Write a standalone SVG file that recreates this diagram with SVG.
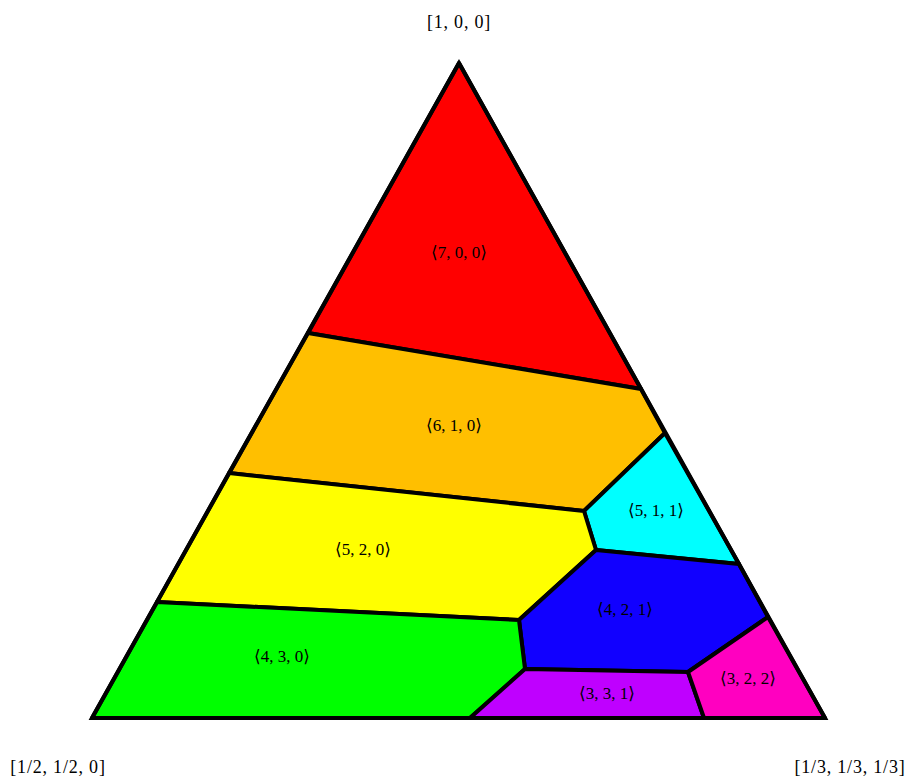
<svg xmlns="http://www.w3.org/2000/svg" width="909" height="782" viewBox="0 0 909 782">
<style>
.r{stroke:#000;stroke-width:4;stroke-linejoin:round}
.t{font-family:"Liberation Serif","DejaVu Serif",serif;font-size:17px;text-anchor:middle;fill:#000}
.c{font-size:18px;letter-spacing:0.8px}
</style>
<rect width="909" height="782" fill="#fff"/>
<g id="r700"><polygon class="r" fill="#FF0000" points="459,63 308,333 641,389"/><text class="t" x="459" y="258">⟨7, 0, 0⟩</text></g>
<g id="r610"><polygon class="r" fill="#FFBF00" points="308,333 641,389 665,433 584,511 229,473"/><text class="t" x="454" y="431">⟨6, 1, 0⟩</text></g>
<g id="r511"><polygon class="r" fill="#00FFFF" points="665,433 739,564 596,550 584,511"/><text class="t" x="656" y="516">⟨5, 1, 1⟩</text></g>
<g id="r520"><polygon class="r" fill="#FFFF00" points="229,473 584,511 596,550 519,620 157,602"/><text class="t" x="363" y="555">⟨5, 2, 0⟩</text></g>
<g id="r421"><polygon class="r" fill="#1100FF" points="596,550 739,564 768,617 688,672 525,669 519,620"/><text class="t" x="625" y="615">⟨4, 2, 1⟩</text></g>
<g id="r430"><polygon class="r" fill="#00FF00" points="157,602 519,620 525,669 470,718 92,718"/><text class="t" x="282" y="662">⟨4, 3, 0⟩</text></g>
<g id="r331"><polygon class="r" fill="#BF00FF" points="525,669 688,672 704,718 470,718"/><text class="t" x="607" y="699">⟨3, 3, 1⟩</text></g>
<g id="r322"><polygon class="r" fill="#FF00C0" points="688,672 768,617 825,718 704,718"/><text class="t" x="748" y="684">⟨3, 2, 2⟩</text></g>
<g id="outline"><polygon points="459,63 92,718 825,718" fill="none" stroke="#000" stroke-width="4" stroke-linejoin="miter"/></g>
<g id="labels">
<text class="t c" x="459" y="28">[1, 0, 0]</text>
<text class="t c" x="58" y="773">[1/2, 1/2, 0]</text>
<text class="t c" x="850" y="773">[1/3, 1/3, 1/3]</text>
</g>
</svg>
